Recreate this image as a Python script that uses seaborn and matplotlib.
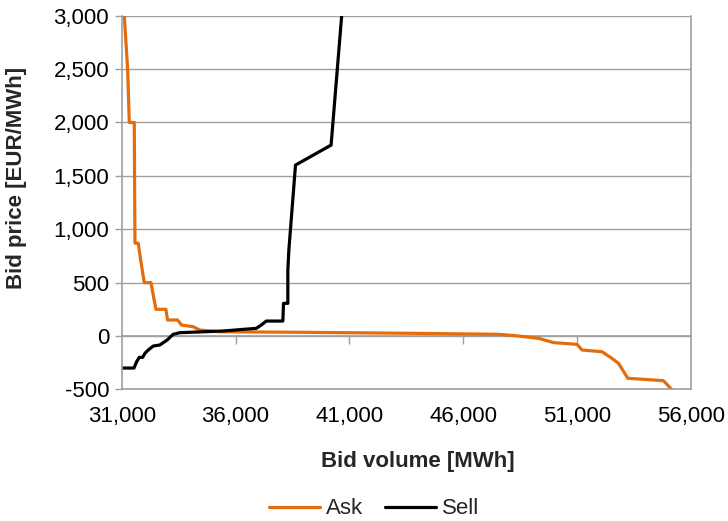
import matplotlib
matplotlib.use("Agg")
import matplotlib.pyplot as plt
import seaborn as sns
import pandas as pd
import numpy as np

# Ask curve (volume MWh, price EUR/MWh)
ask_volume = [31114, 31263, 31333, 31552, 31582, 31728, 31800, 31990, 32283, 32502,
              32940, 33014, 33452, 33627, 34135, 34430, 35303, 38806, 43916, 47563,
              48294, 49315, 49972, 50993, 51212, 52088, 52526, 52817, 53225, 54788, 55150]
ask_price = [3000, 2490, 2000, 2000, 870, 868, 758, 500, 500, 250,
             250, 150, 150, 103, 87, 56, 40, 35, 25, 16,
             3, -22, -62, -78, -131, -147, -209, -256, -396, -418, -500]

# Sell curve
sell_volume = [31000, 31540, 31657, 31771, 31917, 32020, 32165, 32384, 32677, 32997,
               33260, 33553, 35449, 36911, 37130, 37349, 38076, 38106, 38296, 38296,
               38340, 38632, 40195, 40660]
sell_price = [-300, -300, -240, -200, -200, -162, -131, -94, -84, -37,
              16, 31, 47, 72, 103, 140, 140, 306, 306, 618,
              805, 1601, 1788, 3000]

x_ticks = [31000, 36000, 41000, 46000, 51000, 56000]
y_ticks = [-500, 0, 500, 1000, 1500, 2000, 2500, 3000]

df = pd.concat([
    pd.DataFrame({"volume": ask_volume, "price": ask_price, "series": "Ask"}),
    pd.DataFrame({"volume": sell_volume, "price": sell_price, "series": "Sell"}),
], ignore_index=True)

sns.set_theme(style="white")
plt.rcParams["font.family"] = ["Liberation Sans", "DejaVu Sans"]

fig = plt.figure(figsize=(7.28, 5.21), dpi=100)
ax = fig.add_axes([121.7 / 728, 1 - 389.4 / 521, (691 - 121.7) / 728, (389.4 - 15.7) / 521])

gray = "#A0A0A0"
sns.lineplot(data=df, x="volume", y="price", hue="series", sort=False,
             palette={"Ask": "#E46C0A", "Sell": "#000000"}, linewidth=2.3,
             estimator=None, ax=ax, legend=True)

ax.set_xlim(31000, 56000)
ax.set_ylim(-500, 3000)
ax.set_xticks(x_ticks)
ax.set_yticks(y_ticks)
ax.set_xticklabels([f"{v:,}" for v in x_ticks])
ax.set_yticklabels([f"{v:,}" for v in y_ticks])
ax.yaxis.grid(True, color=gray, linewidth=1.0)
ax.xaxis.grid(False)
ax.set_axisbelow(True)
for s in ["top"]:
    ax.spines[s].set_visible(False)
for s in ["left", "right", "bottom"]:
    ax.spines[s].set_color(gray)
    ax.spines[s].set_linewidth(1.2)

ax.tick_params(axis="y", which="both", left=True, length=5, width=1.0, color=gray,
               labelsize=16, pad=4, labelcolor="black")
ax.tick_params(axis="x", which="both", bottom=False, labelsize=16, pad=6, labelcolor="black")

# horizontal axis crossing at price 0, with tick marks
sec = ax.secondary_xaxis(500 / 3500)
sec.set_xticks(x_ticks[1:-1])
sec.tick_params(axis="x", direction="out", length=6, width=1.0, color=gray, labelbottom=False)
sec.spines["bottom"].set_color(gray)
sec.spines["bottom"].set_linewidth(1.2)
sec.set_xticklabels([])

ax.set_xlabel("")
ax.set_ylabel("")
fig.text(417.5 / 728, 1 - 461 / 521, "Bid volume [MWh]", ha="center", va="center",
         fontsize=16, fontweight="bold")
fig.text(17 / 728, 1 - 178 / 521, "Bid price [EUR/MWh]", ha="center", va="center",
         fontsize=16, fontweight="bold", rotation=90)

handles, labels = ax.get_legend_handles_labels()
ax.get_legend().remove()
fig.legend(handles, labels, loc="center", bbox_to_anchor=(374 / 728, 1 - 509 / 521),
           ncol=2, frameon=False, fontsize=16, handlelength=2.3, handletextpad=0.25,
           columnspacing=1.0, borderaxespad=0, borderpad=0)

fig.savefig("out.png", dpi=100)
